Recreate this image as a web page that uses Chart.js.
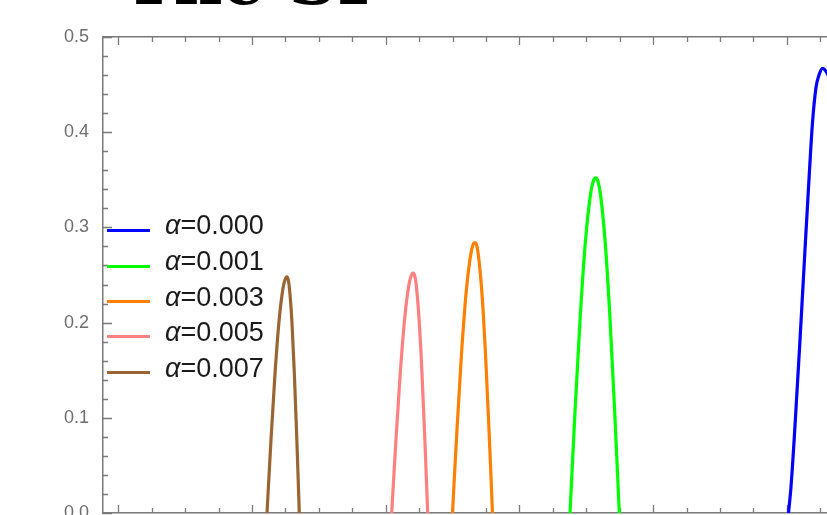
<!DOCTYPE html>
<html>
<head>
<meta charset="utf-8">
<script src="https://cdn.jsdelivr.net/npm/chart.js@4.4.1/dist/chart.umd.min.js"></script>
<style>
  html, body { margin: 0; padding: 0; background: #ffffff; overflow: hidden; }
  #wrap { position: relative; width: 827px; height: 515px; overflow: hidden; background: #fff; }
  #chart { position: absolute; left: 0; top: 0; }
  #title { position: absolute; left: 124px; top: -53px; font: bold 67px "DejaVu Serif", serif; line-height: 67px; color: #000; white-space: nowrap; }
  .lg-line { position: absolute; left: 107px; width: 43px; height: 3px; }
  .lg-text { position: absolute; left: 165px; height: 36px; line-height: 36px; font: 27px "Liberation Sans", Arial, sans-serif; color: #1a1a1a; white-space: nowrap; }
  .lg-text i { font-style: italic; }
</style>
</head>
<body>
<div id="wrap">
  <canvas id="chart" width="827" height="515"></canvas>
  <div id="title">The SP</div>
  <div id="legend"></div>
</div>
<script>
// ---- data ----
const seriesLabels = ['α=0.000', 'α=0.001', 'α=0.003', 'α=0.005', 'α=0.007'];

const x000 = [5.0127, 5.0314, 5.0613, 5.0987, 5.1361, 5.1660, 5.1922, 5.2184, 5.2408, 5.2670, 5.2932, 5.3231, 5.3979, 5.4727];
const y000 = [0, 0.0275, 0.0915, 0.1815, 0.2765, 0.3505, 0.410, 0.447, 0.460, 0.467, 0.464, 0.455, 0.410, 0.330];

const x001 = [3.3785, 3.4169, 3.4554, 3.4938, 3.5322, 3.5515, 3.5707, 3.5884, 3.6060, 3.6413, 3.6766, 3.7119, 3.7472];
const y001 = [0, 0.109, 0.207, 0.285, 0.335, 0.348, 0.352, 0.348, 0.335, 0.285, 0.207, 0.109, 0];

const x003 = [2.4996, 2.5333, 2.5669, 2.6006, 2.6343, 2.6511, 2.6679, 2.6810, 2.6941, 2.7203, 2.7465, 2.7726, 2.7988];
const y003 = [0, 0.088, 0.167, 0.230, 0.270, 0.281, 0.284, 0.281, 0.270, 0.230, 0.167, 0.088, 0];

const x005 = [2.0449, 2.0772, 2.1095, 2.1418, 2.1741, 2.1903, 2.2064, 2.2172, 2.2280, 2.2495, 2.2711, 2.2926, 2.3141];
const y005 = [0, 0.078, 0.148, 0.204, 0.240, 0.249, 0.252, 0.249, 0.240, 0.204, 0.148, 0.078, 0];

const x007 = [1.1122, 1.1421, 1.1720, 1.2019, 1.2319, 1.2468, 1.2618, 1.2710, 1.2802, 1.2986, 1.3170, 1.3354, 1.3538];
const y007 = [0, 0.077, 0.146, 0.201, 0.236, 0.245, 0.248, 0.245, 0.236, 0.201, 0.146, 0.077, 0];

const yTickLabels = ['0.0', '0.1', '0.2', '0.3', '0.4', '0.5'];
const yMajorTicks = [0, 0.1, 0.2, 0.3, 0.4, 0.5];
const yMinorTicks = [0.02, 0.04, 0.06, 0.08, 0.12, 0.14, 0.16, 0.18, 0.22, 0.24, 0.26, 0.28,
                     0.32, 0.34, 0.36, 0.38, 0.42, 0.44, 0.46, 0.48];
const xMajorTicks = [0, 1, 2, 3, 4, 5];
const xMinorTicks = [0.25, 0.5, 0.75, 1.25, 1.5, 1.75, 2.25, 2.5, 2.75, 3.25, 3.5, 3.75,
                     4.25, 4.5, 4.75, 5.25];

// ---- styles ----
const seriesColors = ['#0000ff', '#00ff00', '#ff8000', '#ff8080', '#996633'];
const axisColor = '#7a7a7a';

const xs = [x000, x001, x003, x005, x007];
const ys = [y000, y001, y003, y005, y007];

const datasets = seriesLabels.map((lab, i) => ({
  label: lab,
  data: xs[i].map((xv, j) => ({ x: xv, y: ys[i][j] })),
  borderColor: seriesColors[i],
  backgroundColor: seriesColors[i],
  borderWidth: 3.2,
  pointRadius: 0,
  fill: false,
  cubicInterpolationMode: 'monotone',
  xAxisID: 'x',
  yAxisID: 'y'
}));

const frameTicks = {
  id: 'frameTicks',
  beforeDatasetsDraw(chart) {
    const { ctx, chartArea: a, scales } = chart;
    const x = scales.x, y = scales.y;
    ctx.save();
    ctx.strokeStyle = axisColor;
    ctx.lineWidth = 1.3;
    ctx.beginPath();
    const yT = (vals, len) => vals.forEach(v => {
      const py = Math.round(y.getPixelForValue(v)) + 0.5;
      ctx.moveTo(a.left, py); ctx.lineTo(a.left + len, py);
    });
    const xT = (vals, len) => vals.forEach(v => {
      const px = Math.round(x.getPixelForValue(v)) + 0.5;
      ctx.moveTo(px, a.bottom); ctx.lineTo(px, a.bottom - len);
      ctx.moveTo(px, a.top); ctx.lineTo(px, a.top + len);
    });
    yT(yMajorTicks, 9); yT(yMinorTicks, 5);
    xT(xMajorTicks, 8); xT(xMinorTicks, 5);
    ctx.stroke();
    ctx.restore();
  }
};

const X_MIN = -0.1144, X_MAX = 5.3007;

new Chart(document.getElementById('chart'), {
  type: 'line',
  data: { datasets },
  options: {
    responsive: false,
    animation: false,
    events: [],
    layout: { padding: { top: 37, left: 0, right: 0, bottom: 2 } },
    plugins: { legend: { display: false }, tooltip: { enabled: false }, title: { display: false } },
    scales: {
      x: {
        type: 'linear', position: 'bottom', min: X_MIN, max: X_MAX,
        ticks: { display: false },
        grid: { display: false, drawTicks: false },
        border: { display: true, color: axisColor, width: 1.5 },
        afterFit(s) { s.height = 0; s.paddingLeft = 0; s.paddingRight = 0; }
      },
      xTop: {
        type: 'linear', position: 'top', min: X_MIN, max: X_MAX,
        ticks: { display: false },
        grid: { display: false, drawTicks: false },
        border: { display: true, color: axisColor, width: 1.5 },
        afterFit(s) { s.height = 0; s.paddingLeft = 0; s.paddingRight = 0; }
      },
      y: {
        type: 'linear', position: 'left', min: 0, max: 0.5,
        ticks: {
          stepSize: 0.1, padding: 14, color: '#6e6e6e',
          font: { family: '"Liberation Sans", Arial, sans-serif', size: 18 },
          callback: (v, i) => yTickLabels[i]
        },
        grid: { display: false, drawTicks: false },
        border: { display: true, color: axisColor, width: 1.5 },
        afterFit(s) { s.width = 103; s.paddingTop = 0; s.paddingBottom = 0; }
      }
    }
  },
  plugins: [frameTicks]
});

// ---- legend (HTML, built from the series arrays) ----
const legendRowsY = [230, 266, 301.5, 336.5, 372.5];
const lg = document.getElementById('legend');
seriesLabels.forEach((lab, i) => {
  const line = document.createElement('div');
  line.className = 'lg-line';
  line.style.top = (legendRowsY[i] - 1.5) + 'px';
  line.style.background = seriesColors[i];
  lg.appendChild(line);
  const t = document.createElement('div');
  t.className = 'lg-text';
  t.style.top = (legendRowsY[i] - 19.6) + 'px';
  const k = lab.indexOf('=');
  t.innerHTML = '<i>' + lab.slice(0, k) + '</i>' + lab.slice(k);
  lg.appendChild(t);
});
</script>
</body>
</html>
